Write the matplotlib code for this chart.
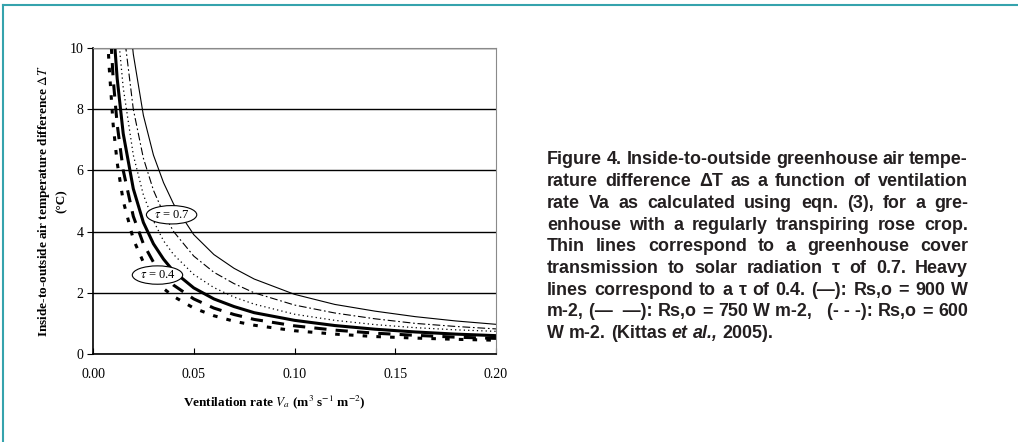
import matplotlib
matplotlib.use('Agg')
import matplotlib.pyplot as plt
from matplotlib.patches import Ellipse
from matplotlib.lines import Line2D

# ventilation rate Va (m3 s-1 m-2)
va = [0.007, 0.008, 0.010, 0.012, 0.015, 0.020, 0.025, 0.030, 0.035, 0.040, 0.050,
      0.060, 0.070, 0.080, 0.100, 0.120, 0.140, 0.160, 0.180, 0.200]

# thin lines: tau = 0.7
dt_07_900 = [28.0, 24.0, 19.5, 16.2, 13.0, 9.8, 7.8, 6.5, 5.6, 4.9, 3.9,
             3.25, 2.8, 2.45, 1.95, 1.62, 1.40, 1.22, 1.08, 0.97]
dt_07_750 = [23.0, 20.0, 16.0, 13.3, 10.7, 8.0, 6.4, 5.35, 4.6, 4.0, 3.2,
             2.67, 2.3, 2.0, 1.6, 1.34, 1.15, 1.0, 0.9, 0.82]
dt_07_600 = [18.6, 16.0, 13.0, 10.8, 8.7, 6.5, 5.2, 4.35, 3.7, 3.25, 2.6,
             2.17, 1.86, 1.63, 1.3, 1.1, 0.96, 0.86, 0.79, 0.74]
# heavy lines: tau = 0.4
dt_04_900 = [15.4, 13.5, 10.8, 9.0, 7.2, 5.4, 4.3, 3.6, 3.1, 2.7, 2.16,
             1.8, 1.55, 1.35, 1.1, 0.93, 0.81, 0.72, 0.65, 0.6]
dt_04_750 = [12.9, 11.3, 9.0, 7.5, 6.0, 4.5, 3.6, 3.0, 2.57, 2.25, 1.8,
             1.5, 1.29, 1.13, 0.92, 0.78, 0.68, 0.61, 0.55, 0.51]
dt_04_600 = [10.7, 9.4, 7.5, 6.25, 5.0, 3.75, 3.0, 2.5, 2.14, 1.88, 1.5,
             1.25, 1.07, 0.94, 0.76, 0.65, 0.57, 0.52, 0.48, 0.45]

xticks = [0.00, 0.05, 0.10, 0.15, 0.20]
yticks = [0, 2, 4, 6, 8, 10]

caption = [
    "Figure 4. Inside-to-outside greenhouse air tempe-",
    "rature difference ΔT as a function of ventilation",
    "rate Va as calculated using eqn. (3), for a gre-",
    "enhouse with a regularly transpiring rose crop.",
    "Thin lines correspond to a greenhouse cover",
    "transmission to solar radiation τ of 0.7. Heavy",
    "lines correspond to a τ of 0.4. (—): Rs,o = 900 W",
    "m-2, (—\u00a0\u00a0—): Rs,o = 750 W m-2,\u00a0\u00a0 (-\u00a0-\u00a0-): Rs,o = 600",
    "W m-2. (Kittas et al., 2005).",
]

W, H = 1018, 442
plt.rcParams['mathtext.fontset'] = 'stix'
fig = plt.figure(figsize=(W / 100, H / 100), dpi=100)
ax = fig.add_axes([93 / W, 88 / H, 403 / W, 306 / H])

serif = 'Liberation Serif'
ax.plot(va, dt_07_900, color='black', lw=0.8, ls='-')
ax.plot(va, dt_07_750, color='black', lw=0.8, ls=(0, (7, 2.5, 1.5, 2.5)))
ax.plot(va, dt_07_600, color='black', lw=0.9, ls=(0, (1, 2.5)))
ax.plot(va, dt_04_900, color='black', lw=2.2, ls='-')
ax.plot(va, dt_04_750, color='black', lw=2.2, ls=(0, (4, 3)))
ax.plot(va, dt_04_600, color='black', lw=2.2, ls=(0, (1.5, 3)))

ax.set_xlim(0, 0.2)
ax.set_ylim(0, 10)
ax.set_xticks(xticks)
ax.set_xticklabels([f"{t:.2f}" for t in xticks], family=serif, fontsize=10)
ax.set_yticks(yticks)
ax.set_yticklabels([str(t) for t in yticks], family=serif, fontsize=10)
ax.tick_params(axis='x', direction='in', length=4, pad=10)
ax.tick_params(axis='y', direction='out', length=4, pad=3)
ax.grid(axis='y', color='black', lw=1)
ax.set_axisbelow(True)
for s in ['top', 'right']:
    ax.spines[s].set_color('#8a8a8a')
ax.spines['left'].set_linewidth(1.2)
ax.spines['bottom'].set_linewidth(1.2)

# tau labels in ellipses
for (cx, cy, lab) in [(0.039, 4.55, '$\\tau$ = 0.7'), (0.032, 2.58, '$\\tau$ = 0.4')]:
    ax.add_patch(Ellipse((cx, cy), 0.025, 0.6, facecolor='white', edgecolor='black', lw=0.8, zorder=5))
    ax.text(cx, cy, lab, ha='center', va='center', family=serif, fontsize=9, zorder=6)

ax.set_xlabel('Ventilation rate $V_a$ (m$^3$ s$^{-1}$ m$^{-2}$)', family=serif,
              fontweight='bold', fontsize=9.5)
ax.xaxis.set_label_coords(0.45, -0.13)
ax.set_ylabel('Inside-to-outside air temperature difference $\\Delta T$\n(°C)', family=serif,
              fontweight='bold', fontsize=9.5, linespacing=1.4)
ax.yaxis.set_label_coords(-0.062, 0.5)

# frame lines (left and top)
fig.add_artist(Line2D([3 / W, 3 / W], [0, 1 - 5 / H], color='#35a3ad', lw=1.5))
fig.add_artist(Line2D([3 / W, 1], [1 - 5 / H, 1 - 5 / H], color='#35a3ad', lw=1.5))

# caption, justified between x0 and x1
renderer = fig.canvas.get_renderer()
x0, x1 = 547, 968
probe = fig.text(0, 0, caption[0], family='Liberation Sans', fontweight='bold', fontsize=10)
fs = 10 * (x1 - x0) / probe.get_window_extent(renderer).width
probe.remove()
for i, line in enumerate(caption):
    y = 1 - (160 + i * 21.7) / H
    words = line.split(' ')
    texts = []
    for w in words:
        style = 'italic' if w in ('et', 'al.,') else 'normal'
        t = fig.text(0, y, w.replace('\u00a0', ' '), family='Liberation Sans', fontweight='bold',
                     fontsize=fs, color='#231f20', va='center', ha='left', style=style)
        texts.append(t)
    widths = [t.get_window_extent(renderer).width for t in texts]
    if i < len(caption) - 1:
        gap = (x1 - x0 - sum(widths)) / (len(words) - 1)
    else:
        gap = 0.28 * fs * 100 / 72
    x = x0
    for t, wd in zip(texts, widths):
        t.set_x(x / W)
        x += wd + gap

fig.savefig('out.png', dpi=100)
